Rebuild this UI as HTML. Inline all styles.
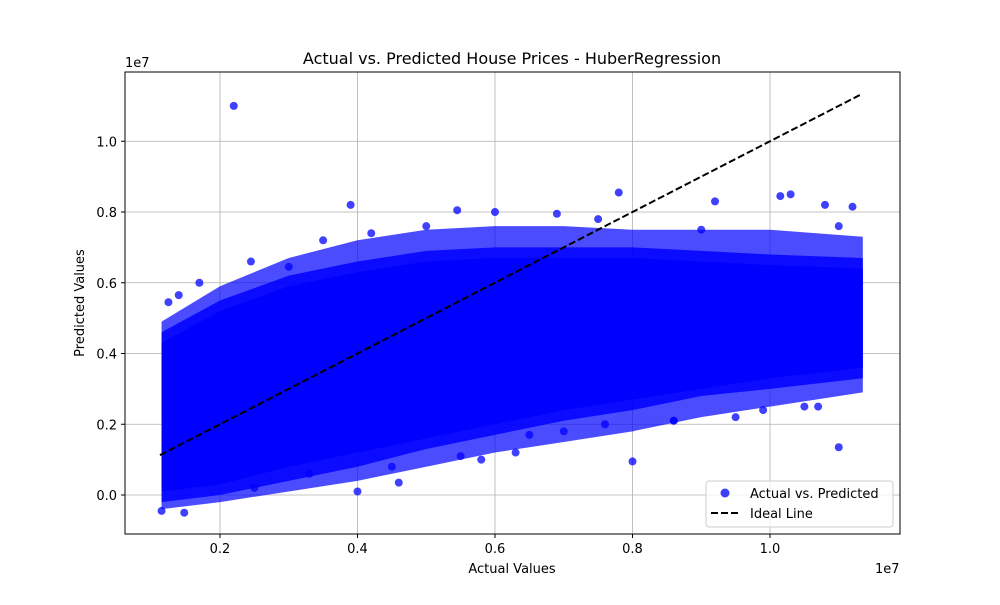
<!DOCTYPE html>
<html><head><meta charset="utf-8"><style>
body{margin:0;background:#fff}
svg text{font-family:"DejaVu Sans","Liberation Sans",sans-serif;fill:#000}
</style></head><body>
<svg id="chart" width="1000" height="600">
<rect width="1000" height="600" fill="#fff"/>
<text x="512" y="64" font-size="16" text-anchor="middle">Actual vs. Predicted House Prices - HuberRegression</text>
<g id="grid"></g>
<g id="band"></g>
<g id="pts"></g>
<g id="ideal"></g>
<rect x="125" y="72" width="775" height="462" fill="none" stroke="#000" stroke-width="1"/>
<g id="axes"></g>
<text x="512" y="573" font-size="13" text-anchor="middle">Actual Values</text>
<text transform="translate(84,303) rotate(-90)" font-size="13" text-anchor="middle">Predicted Values</text>
<text x="875" y="573" font-size="13">1e7</text>
<text x="125" y="67" font-size="13">1e7</text>
<g>
<rect x="706" y="481" width="187" height="46" rx="3" fill="#fff" fill-opacity="0.8" stroke="#ccc"/>
<circle cx="725" cy="493" r="4.5" fill="#0000ff" fill-opacity="0.75"/>
<text x="750" y="498" font-size="13">Actual vs. Predicted</text>
<line x1="711" y1="513" x2="739" y2="513" stroke="#000" stroke-width="2" stroke-dasharray="7,3"/>
<text x="750" y="518" font-size="13">Ideal Line</text>
</g>
</svg>
<script>
const xTicks=[0.2,0.4,0.6,0.8,1.0];
const xTickLabels=["0.2","0.4","0.6","0.8","1.0"];
const yTicks=[0.0,0.2,0.4,0.6,0.8,1.0];
const yTickLabels=["0.0","0.2","0.4","0.6","0.8","1.0"];
// envelope of dense point cloud (actual, lower, upper) in 1e7 units
const bandX=[0.115,0.2,0.3,0.4,0.5,0.6,0.7,0.8,0.9,1.0,1.135];
const coreLow=[0.01,0.03,0.08,0.12,0.16,0.2,0.24,0.27,0.3,0.33,0.36];
const coreHigh=[0.43,0.52,0.59,0.63,0.66,0.67,0.67,0.67,0.66,0.65,0.64];
const outerLow=[-0.02,0.0,0.04,0.08,0.13,0.17,0.21,0.24,0.28,0.3,0.33];
const outerHigh=[0.46,0.55,0.62,0.66,0.69,0.7,0.7,0.7,0.69,0.68,0.67];
const fringeLow=[-0.04,-0.02,0.01,0.04,0.08,0.12,0.15,0.18,0.22,0.25,0.29];
const fringeHigh=[0.49,0.59,0.67,0.72,0.75,0.76,0.76,0.75,0.75,0.75,0.73];
const outActual=[0.22,0.39,0.78,1.03,1.015,0.80,1.10,0.115,0.148,0.40,0.46,0.58,0.95,0.99,1.07,0.545,0.60,0.69,0.92,1.08,1.12,0.86,0.76,0.70,0.65,0.245,0.17,0.14,0.125,0.55,0.63,0.86,1.05,0.30,0.35,0.42,0.50,0.75,0.9,1.1,0.25,0.33,0.45];
const outPred=[1.10,0.82,0.855,0.85,0.845,0.095,0.135,-0.045,-0.05,0.01,0.035,0.10,0.22,0.24,0.25,0.805,0.80,0.795,0.83,0.82,0.815,0.21,0.20,0.18,0.17,0.66,0.60,0.565,0.545,0.11,0.12,0.21,0.25,0.645,0.72,0.74,0.76,0.78,0.75,0.76,0.02,0.06,0.08];
const idealLine=[0.1127,1.134];
const X=v=>220+(v-0.2)*687.5, Y=v=>495-v*353.75;
const NS="http://www.w3.org/2000/svg";
function mk(t,a,p){const e=document.createElementNS(NS,t);for(const k in a)e.setAttribute(k,a[k]);document.getElementById(p).appendChild(e);return e;}
xTicks.forEach((t,i)=>{
 const g=mk("line",{x1:X(t),x2:X(t),y1:72,y2:534,stroke:"#b0b0b0","stroke-width":0.8},"grid");
 
 
 mk("line",{x1:X(t),x2:X(t),y1:534,y2:538,stroke:"#000"},"axes");
 const l=mk("text",{x:X(t),y:553,"font-size":13,"text-anchor":"middle"},"axes");l.textContent=xTickLabels[i];
 
 
});
yTicks.forEach((t,i)=>{
 const g=mk("line",{x1:125,x2:900,y1:Y(t),y2:Y(t),stroke:"#b0b0b0","stroke-width":0.8},"grid");
 
 
 mk("line",{x1:121,x2:125,y1:Y(t),y2:Y(t),stroke:"#000"},"axes");
 const l=mk("text",{x:117,y:Y(t)+5,"font-size":13,"text-anchor":"end"},"axes");l.textContent=yTickLabels[i];
 
 
});
function poly(lo,hi){let p=bandX.map((x,i)=>X(x)+","+Y(hi[i]));for(let i=bandX.length-1;i>=0;i--)p.push(X(bandX[i])+","+Y(lo[i]));return p.join(" ");}
const fb=mk("polygon",{points:poly(fringeLow,fringeHigh),fill:"#0000ff","fill-opacity":0.7},"band");


const ob=mk("polygon",{points:poly(outerLow,outerHigh),fill:"#0000ff","fill-opacity":0.85},"band");


const cb=mk("polygon",{points:poly(coreLow,coreHigh),fill:"#0000ff"},"band");


outActual.forEach((a,i)=>{
 const c=mk("circle",{cx:X(a),cy:Y(outPred[i]),r:4,fill:"#0000ff","fill-opacity":0.75},"pts");
 
 
});
const il=mk("line",{x1:X(idealLine[0]),y1:Y(idealLine[0]),x2:X(idealLine[1]),y2:Y(idealLine[1]),stroke:"#000","stroke-width":2,"stroke-dasharray":"7,3"},"ideal");


</script>
</body></html>
